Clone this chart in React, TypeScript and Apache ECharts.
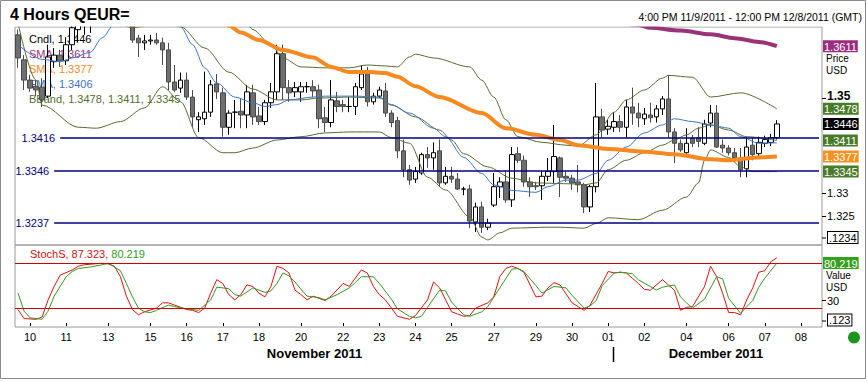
import React, { useEffect, useRef } from "react";
import * as echarts from "echarts";

const FONT = '"Liberation Sans", Arial, Helvetica, sans-serif';

// trading sessions of the 4-hour feed: [month, day, bars]
const sessionDays: [string, string, number][] = [
  ["Nov", "09", 2], ["Nov", "10", 6], ["Nov", "11", 6], ["Nov", "12", 1], ["Nov", "13", 1],
  ["Nov", "14", 6], ["Nov", "15", 6], ["Nov", "16", 6], ["Nov", "17", 6], ["Nov", "18", 6],
  ["Nov", "19", 1], ["Nov", "20", 1], ["Nov", "21", 6], ["Nov", "22", 6], ["Nov", "23", 6],
  ["Nov", "24", 6], ["Nov", "25", 6], ["Nov", "26", 1], ["Nov", "27", 1], ["Nov", "28", 6],
  ["Nov", "29", 6], ["Nov", "30", 6], ["Dec", "01", 6], ["Dec", "02", 6], ["Dec", "03", 1],
  ["Dec", "04", 1], ["Dec", "05", 6], ["Dec", "06", 6], ["Dec", "07", 6], ["Dec", "08", 4],
];
const labeledDays = [
  "Nov 10", "Nov 11", "Nov 13", "Nov 15", "Nov 16", "Nov 17", "Nov 18", "Nov 20", "Nov 22",
  "Nov 23", "Nov 24", "Nov 25", "Nov 27", "Nov 29", "Nov 30", "Dec 01", "Dec 02", "Dec 04",
  "Dec 06", "Dec 07", "Dec 08",
];
const monthLabels = ["November 2011", "December 2011"];

// [open, close, low, high]
const candles: number[][] = [
  [1.3635, 1.3586, 1.3565, 1.3646], [1.3582, 1.3539, 1.3518, 1.3592], [1.3539, 1.3522, 1.3514, 1.3550],
  [1.3526, 1.3518, 1.3505, 1.3539], [1.3524, 1.3497, 1.3482, 1.3543], [1.3505, 1.3588, 1.3501, 1.3614],
  [1.3578, 1.3592, 1.3565, 1.3607], [1.3592, 1.3580, 1.3567, 1.3603], [1.3580, 1.3614, 1.3571, 1.3630],
  [1.3614, 1.3650, 1.3603, 1.3662], [1.3646, 1.3671, 1.3620, 1.3688], [1.3666, 1.3699, 1.3635, 1.3709],
  [1.3699, 1.3756, 1.3639, 1.3773], [1.3756, 1.3765, 1.3743, 1.3778], [1.3765, 1.3761, 1.3753, 1.3771],
  [1.3784, 1.3799, 1.3774, 1.3815], [1.3799, 1.3774, 1.3759, 1.3809], [1.3774, 1.3733, 1.3718, 1.3784],
  [1.3733, 1.3702, 1.3687, 1.3748], [1.3702, 1.3624, 1.3618, 1.3712], [1.3628, 1.3618, 1.3588, 1.3635],
  [1.3618, 1.3622, 1.3603, 1.3635], [1.3622, 1.3624, 1.3614, 1.3635], [1.3624, 1.3618, 1.3614, 1.3639],
  [1.3618, 1.3603, 1.3571, 1.3629], [1.3603, 1.3535, 1.3518, 1.3618], [1.3535, 1.3518, 1.3514, 1.3571],
  [1.3522, 1.3539, 1.3512, 1.3555], [1.3539, 1.3503, 1.3497, 1.3555], [1.3503, 1.3461, 1.3439, 1.3518],
  [1.3455, 1.3461, 1.3429, 1.3471], [1.3457, 1.3471, 1.3444, 1.3557], [1.3471, 1.3529, 1.3461, 1.3539],
  [1.3531, 1.3514, 1.3499, 1.3552], [1.3512, 1.3439, 1.3419, 1.3523], [1.3439, 1.3469, 1.3423, 1.3475],
  [1.3471, 1.3471, 1.3437, 1.3497], [1.3473, 1.3465, 1.3437, 1.3501], [1.3465, 1.3514, 1.3437, 1.3529],
  [1.3512, 1.3461, 1.3444, 1.3529], [1.3463, 1.3451, 1.3444, 1.3482], [1.3451, 1.3491, 1.3444, 1.3497],
  [1.3491, 1.3514, 1.3480, 1.3533], [1.3514, 1.3595, 1.3497, 1.3614], [1.3595, 1.3523, 1.3497, 1.3614],
  [1.3523, 1.3512, 1.3493, 1.3539], [1.3514, 1.3523, 1.3503, 1.3535], [1.3514, 1.3525, 1.3493, 1.3535],
  [1.3525, 1.3525, 1.3512, 1.3535], [1.3525, 1.3516, 1.3503, 1.3539], [1.3518, 1.3457, 1.3437, 1.3529],
  [1.3459, 1.3449, 1.3429, 1.3482], [1.3449, 1.3497, 1.3439, 1.3539], [1.3495, 1.3483, 1.3471, 1.3514],
  [1.3487, 1.3483, 1.3471, 1.3497], [1.3483, 1.3483, 1.3471, 1.3503], [1.3483, 1.3525, 1.3465, 1.3533],
  [1.3523, 1.3552, 1.3518, 1.3571], [1.3552, 1.3493, 1.3483, 1.3567], [1.3493, 1.3505, 1.3487, 1.3512],
  [1.3505, 1.3518, 1.3501, 1.3525], [1.3516, 1.3469, 1.3461, 1.3533], [1.3469, 1.3449, 1.3439, 1.3475],
  [1.3453, 1.3389, 1.3374, 1.3461], [1.3389, 1.3349, 1.3333, 1.3413], [1.3349, 1.3327, 1.3317, 1.3359],
  [1.3329, 1.3345, 1.3321, 1.3355], [1.3342, 1.3381, 1.3338, 1.3385], [1.3381, 1.3374, 1.3353, 1.3397],
  [1.3374, 1.3385, 1.3349, 1.3407], [1.3389, 1.3321, 1.3313, 1.3413], [1.3321, 1.3335, 1.3317, 1.3355],
  [1.3335, 1.3329, 1.3321, 1.3355], [1.3329, 1.3308, 1.3306, 1.3342], [1.3308, 1.3308, 1.3295, 1.3313],
  [1.3308, 1.3240, 1.3225, 1.3317], [1.3238, 1.3270, 1.3217, 1.3279], [1.3270, 1.3227, 1.3215, 1.3281],
  [1.3227, 1.3236, 1.3221, 1.3245], [1.3274, 1.3313, 1.3270, 1.3342], [1.3313, 1.3323, 1.3289, 1.3333],
  [1.3323, 1.3285, 1.3279, 1.3345], [1.3285, 1.3381, 1.3270, 1.3397], [1.3383, 1.3369, 1.3363, 1.3397],
  [1.3369, 1.3323, 1.3313, 1.3379], [1.3323, 1.3313, 1.3291, 1.3333], [1.3315, 1.3313, 1.3306, 1.3323],
  [1.3315, 1.3335, 1.3285, 1.3345], [1.3335, 1.3345, 1.3325, 1.3374], [1.3345, 1.3377, 1.3321, 1.3444],
  [1.3374, 1.3333, 1.3291, 1.3377], [1.3335, 1.3331, 1.3323, 1.3345], [1.3331, 1.3321, 1.3306, 1.3338],
  [1.3323, 1.3317, 1.3301, 1.3359], [1.3317, 1.3270, 1.3257, 1.3321], [1.3270, 1.3313, 1.3259, 1.3317],
  [1.3313, 1.3461, 1.3301, 1.3533], [1.3461, 1.3433, 1.3417, 1.3478], [1.3435, 1.3441, 1.3423, 1.3455],
  [1.3439, 1.3451, 1.3429, 1.3469], [1.3451, 1.3439, 1.3429, 1.3465], [1.3439, 1.3482, 1.3417, 1.3497],
  [1.3482, 1.3469, 1.3444, 1.3523], [1.3469, 1.3459, 1.3439, 1.3491], [1.3457, 1.3467, 1.3444, 1.3480],
  [1.3465, 1.3459, 1.3449, 1.3491], [1.3461, 1.3478, 1.3449, 1.3486], [1.3478, 1.3499, 1.3465, 1.3505],
  [1.3499, 1.3429, 1.3417, 1.3550], [1.3429, 1.3405, 1.3363, 1.3437], [1.3405, 1.3391, 1.3387, 1.3413],
  [1.3385, 1.3405, 1.3383, 1.3437], [1.3415, 1.3405, 1.3397, 1.3423], [1.3417, 1.3409, 1.3397, 1.3439],
  [1.3405, 1.3446, 1.3401, 1.3455], [1.3448, 1.3469, 1.3439, 1.3486], [1.3469, 1.3397, 1.3395, 1.3486],
  [1.3401, 1.3395, 1.3385, 1.3413], [1.3395, 1.3385, 1.3379, 1.3401], [1.3385, 1.3374, 1.3365, 1.3395],
  [1.3374, 1.3349, 1.3333, 1.3395], [1.3351, 1.3397, 1.3333, 1.3417], [1.3401, 1.3381, 1.3369, 1.3417],
  [1.3383, 1.3407, 1.3377, 1.3419], [1.3405, 1.3413, 1.3397, 1.3421], [1.3407, 1.3417, 1.3399, 1.3425],
  [1.3417, 1.3446, 1.3413, 1.3454],
];

// indicator readings: [bar index, value]
const smaLong: number[][] = [
  [0, 1.38], [60, 1.373], [95, 1.3672], [103, 1.3656], [105, 1.365], [110, 1.3644], [115, 1.3636],
  [119, 1.3628], [123, 1.362], [126, 1.3611],
];
const smaShort: number[][] = [
  [0, 1.3745], [20, 1.37], [33, 1.3668], [35, 1.3655], [37, 1.364], [40, 1.3624], [44, 1.3603],
  [49, 1.3587], [52, 1.3567], [55, 1.3556], [58, 1.3556], [61, 1.3554], [63, 1.3546], [66, 1.3526],
  [70, 1.3503], [77, 1.3469], [81, 1.3437], [86, 1.3423], [90, 1.3412], [93, 1.3401], [98, 1.3393],
  [104, 1.3387], [109, 1.3382], [115, 1.3371], [118, 1.3369], [123, 1.3375], [126, 1.3377],
];
const ema: number[][] = [
  [0, 1.3614], [4, 1.3583], [7, 1.3578], [9, 1.3586], [12, 1.3598], [14, 1.3629], [16, 1.3658],
  [20, 1.3679], [23, 1.3672], [27, 1.3652], [29, 1.3614], [31, 1.3565], [33, 1.3533], [36, 1.3503],
  [39, 1.3491], [41, 1.3483], [43, 1.3487], [45, 1.3497], [49, 1.3503], [51, 1.3505], [56, 1.3505],
  [60, 1.3503], [62, 1.3487], [65, 1.3469], [69, 1.3437], [71, 1.3419], [74, 1.3375], [77, 1.3341],
  [79, 1.3317], [82, 1.3305], [86, 1.3301], [88, 1.3313], [91, 1.3327], [93, 1.3327], [96, 1.3341],
  [98, 1.3369], [101, 1.3397], [104, 1.3427], [107, 1.3444], [109, 1.3457], [112, 1.3451],
  [115, 1.3444], [118, 1.3437], [120, 1.3419], [123, 1.3405], [126, 1.3406],
];
const bbUpper: number[][] = [
  [0, 1.3815], [20, 1.3875], [30, 1.3815], [36, 1.3712], [38, 1.3658], [39, 1.3646], [42, 1.3614],
  [44, 1.3586], [47, 1.3567], [51, 1.3565], [55, 1.3565], [58, 1.3571], [61, 1.3569], [63, 1.3567],
  [65, 1.3588], [66, 1.3594], [69, 1.3586], [75, 1.3567], [77, 1.3539], [79, 1.3503], [81, 1.3455],
  [83, 1.3419], [87, 1.3407], [91, 1.3401], [93, 1.3399], [96, 1.3423], [99, 1.3471], [101, 1.3497],
  [104, 1.3518], [107, 1.3543], [108, 1.3549], [112, 1.3545], [115, 1.3503], [120, 1.3512],
  [126, 1.3478],
];
const bbMiddle: number[][] = [
  [0, 1.3732], [10, 1.3672], [17, 1.3656], [19, 1.365], [22, 1.3656], [25, 1.366], [27, 1.3652],
  [31, 1.3607], [35, 1.3556], [39, 1.352], [43, 1.3497], [47, 1.3497], [50, 1.3501], [55, 1.3503],
  [60, 1.3501], [62, 1.3486], [66, 1.3461], [70, 1.3433], [72, 1.3412], [74, 1.3383], [78, 1.3355],
  [82, 1.3331], [86, 1.3321], [92, 1.3319], [94, 1.3317], [96, 1.3321], [98, 1.3349], [101, 1.3369],
  [104, 1.3385], [107, 1.3401], [109, 1.3412], [111, 1.3423], [113, 1.3437], [115, 1.3444],
  [118, 1.3433], [121, 1.3419], [126, 1.3411],
];
const bbLower: number[][] = [
  [0, 1.366], [3, 1.3539], [4, 1.3486], [10, 1.3439], [13, 1.3437], [17, 1.3451], [21, 1.348],
  [24, 1.3525], [27, 1.3493], [30, 1.3417], [34, 1.3385], [36, 1.3385], [39, 1.3395], [43, 1.3412],
  [47, 1.3419], [51, 1.3427], [55, 1.3429], [60, 1.3429], [62, 1.3417], [65, 1.3405], [68, 1.3333],
  [71, 1.3306], [75, 1.3249], [77, 1.3206], [78, 1.32], [80, 1.3215], [82, 1.3225], [88, 1.3227],
  [90, 1.3227], [94, 1.3225], [96, 1.3235], [98, 1.3247], [103, 1.3243], [107, 1.3263], [111, 1.3291],
  [113, 1.3321], [114, 1.3369], [115, 1.3391], [118, 1.3375], [120, 1.3355], [122, 1.3345],
  [125, 1.3345], [126, 1.3345],
];
const levels = [1.3416, 1.3346, 1.3237];
const levelStart = [7, 6, 6];

const stochK: number[][] = [
  [0, 18], [1, 6], [3, 5], [4, 8], [5, 31], [6, 49], [7, 64], [9, 71], [10, 76], [11, 78], [14, 80],
  [15, 79], [16, 76], [17, 62], [18, 36], [19, 18], [20, 11], [21, 15], [23, 20], [24, 27], [25, 27],
  [26, 24], [28, 18], [29, 17], [30, 14], [31, 20], [32, 40], [33, 58], [34, 53], [35, 38], [36, 31],
  [37, 38], [38, 51], [39, 49], [40, 40], [41, 35], [42, 49], [43, 76], [44, 73], [45, 67], [46, 44],
  [47, 38], [48, 31], [49, 36], [50, 33], [51, 30], [52, 36], [54, 53], [55, 49], [57, 71], [58, 67],
  [59, 49], [60, 38], [61, 31], [62, 20], [63, 9], [65, 5], [66, 10], [68, 31], [69, 55], [70, 47],
  [72, 15], [73, 12], [74, 9], [75, 10], [76, 20], [78, 27], [79, 35], [80, 62], [81, 73], [82, 76],
  [83, 73], [84, 68], [86, 35], [87, 36], [88, 47], [89, 54], [90, 51], [92, 27], [93, 22], [94, 17],
  [95, 24], [97, 53], [98, 69], [99, 67], [100, 68], [101, 67], [102, 60], [103, 53], [104, 45],
  [105, 44], [107, 58], [108, 51], [109, 44], [110, 17], [111, 21], [112, 22], [114, 49], [115, 76],
  [116, 62], [117, 40], [118, 14], [119, 14], [120, 11], [121, 31], [122, 47], [123, 68], [124, 70],
  [125, 82], [126, 87.323],
];
const stochD: number[][] = [
  [0, 40], [1, 16], [2, 7], [4, 5], [5, 16], [6, 36], [8, 62], [9, 69], [10, 73], [12, 75], [14, 78],
  [15, 80], [17, 70], [18, 53], [19, 35], [20, 20], [21, 15], [22, 14], [23, 17], [25, 24], [26, 22],
  [28, 19], [30, 17], [32, 31], [33, 48], [35, 46], [36, 38], [37, 36], [39, 47], [41, 41], [42, 43],
  [43, 53], [44, 67], [45, 63], [46, 55], [47, 45], [48, 36], [50, 34], [51, 31], [53, 38], [55, 47],
  [56, 54], [57, 62], [59, 62], [60, 53], [62, 32], [63, 19], [65, 9], [66, 7], [67, 9], [68, 21],
  [70, 44], [71, 43], [72, 28], [74, 11], [75, 9], [77, 15], [78, 22], [80, 47], [82, 72], [83, 73],
  [84, 69], [86, 50], [87, 40], [89, 49], [91, 47], [92, 37], [94, 20], [95, 23], [96, 30], [97, 50],
  [99, 67], [100, 68], [102, 66], [103, 58], [106, 44], [107, 48], [109, 51], [110, 35], [111, 27],
  [112, 20], [114, 32], [116, 62], [117, 59], [118, 33], [120, 13], [121, 22], [122, 30], [123, 48],
  [124, 60], [126, 80.219],
];
const stochBands = [80, 20];
const priceTicks = [1.325, 1.33, 1.35];
const stochTicks = [30];

const PURPLE = "#993377";
const ORANGE = "#f6891f";
const BLUE = "#3f72c8";
const OLIVE = "#566b30";
const NAVY = "#000080";
const RED = "#dd1111";
const GREEN = "#339922";

const last = (a: number[][]) => a[a.length - 1];

function buildOption() {
  const categories: string[] = [];
  const labelIdx = new Set<number>();
  sessionDays.forEach(([m, d, n]) => {
    for (let k = 0; k < n; k++) {
      if (k === 0 && labeledDays.includes(`${m} ${d}`)) labelIdx.add(categories.length);
      categories.push(`${m} ${d} ${k}`);
    }
  });
  const lastIdx = categories.length - 1;
  const close = last(candles)[1];

  const tagRich = (bg: string) => ({
    backgroundColor: bg, color: "#fff", fontSize: 11, fontFamily: FONT,
    padding: [1, 1, 0, 1], lineHeight: 11,
  });
  const mainTags = [
    { v: last(smaLong)[1], s: "pu" },
    { v: last(bbUpper)[1], s: "gr" },
    { v: close, s: "bk" },
    { v: last(bbMiddle)[1], s: "gr" },
    { v: last(smaShort)[1], s: "or" },
    { v: last(bbLower)[1], s: "gr" },
  ];
  const stochTags = [
    { v: last(stochK)[1], s: "rd" },
    { v: last(stochD)[1], s: "gn" },
  ];

  const legendRows = [
    { t: `Cndl, ${close.toFixed(4)}`, c: "#000" },
    { t: `SMA, ${last(smaLong)[1].toFixed(4)}`, c: PURPLE },
    { t: `SMA, ${last(smaShort)[1].toFixed(4)}`, c: ORANGE },
    { t: `EMA, ${last(ema)[1].toFixed(4)}`, c: BLUE },
    {
      t: `BBand, ${last(bbUpper)[1].toFixed(4)}, ${last(bbMiddle)[1].toFixed(4)}, ${last(bbLower)[1].toFixed(4)}`,
      c: OLIVE,
    },
  ];

  const txt = (x: number, y: number, text: string, extra: any = {}, z = 0) => ({
    type: "text", x, y, z, silent: true,
    style: { text, fontSize: 11, fontFamily: FONT, fill: "#000", verticalAlign: "middle", ...extra },
  });

  const lineSeries = (name: string, data: number[][], color: string, width: number, extra: any = {}) => ({
    name, type: "line", xAxisIndex: 0, yAxisIndex: 0, data, symbol: "none", showSymbol: false,
    smooth: 0.3, smoothMonotone: "x", clip: true, silent: true,
    lineStyle: { color, width }, ...extra,
  });

  return {
    animation: false,
    backgroundColor: "#fff",
    grid: [
      { left: 15, top: 27, width: 807, height: 218, show: true, borderColor: "#9a9a9a", borderWidth: 1 },
      { left: 15, top: 245, width: 807, height: 82, show: true, borderColor: "#9a9a9a", borderWidth: 1 },
    ],
    xAxis: [
      {
        type: "category", gridIndex: 0, data: categories, boundaryGap: true,
        axisLine: { show: false }, axisTick: { show: false }, axisLabel: { show: false }, splitLine: { show: false },
      },
      {
        type: "category", gridIndex: 1, data: categories, boundaryGap: true,
        axisLine: { show: false }, splitLine: { show: false },
        axisTick: { show: true, alignWithLabel: true, length: 3, interval: (i: number) => labelIdx.has(i), lineStyle: { color: "#000" } },
        axisLabel: {
          interval: (i: number) => labelIdx.has(i),
          formatter: (v: string) => v.split(" ")[1],
          fontSize: 11, fontFamily: FONT, color: "#000", margin: 4,
        },
      },
    ],
    yAxis: [
      {
        type: "value", gridIndex: 0, position: "right", min: 1.31893, max: 1.36516,
        axisLine: { show: false }, splitLine: { show: false },
        axisTick: { show: true, length: 4, customValues: priceTicks, lineStyle: { color: "#000" } },
        axisLabel: {
          customValues: priceTicks, margin: 5, fontSize: 11, fontFamily: FONT, color: "#000",
          formatter: (v: number) => (Math.abs(v - 1.35) < 1e-9 ? `{b|${v}}` : `${v}`),
          rich: { b: { fontWeight: "bold", fontSize: 12, fontFamily: FONT, color: "#000", padding: [0, 0, 4, 0] } },
        },
      },
      {
        type: "value", gridIndex: 0, position: "right", min: 1.31893, max: 1.36516, z: 10,
        axisLine: { show: false }, splitLine: { show: false }, axisTick: { show: false },
        axisLabel: {
          customValues: mainTags.map((t) => t.v), margin: 1,
          formatter: (v: number) => {
            const t = mainTags.find((m) => Math.abs(m.v - v) < 1e-6);
            return t ? `{${t.s}|${v.toFixed(4)}}` : "";
          },
          rich: { pu: tagRich("#9b2d7f"), gr: tagRich("#4a7b29"), bk: tagRich("#000"), or: tagRich("#f7901e") },
        },
      },
      {
        type: "value", gridIndex: 1, position: "right", min: -5.3, max: 104.4,
        axisLine: { show: false }, splitLine: { show: false },
        axisTick: { show: true, length: 4, customValues: stochTicks, lineStyle: { color: "#000" } },
        axisLabel: { customValues: stochTicks, margin: 5, fontSize: 11, fontFamily: FONT, color: "#000" },
      },
      {
        type: "value", gridIndex: 1, position: "right", min: -5.3, max: 104.4, z: 10,
        axisLine: { show: false }, splitLine: { show: false }, axisTick: { show: false },
        axisLabel: {
          customValues: stochTags.map((t) => t.v), margin: 1,
          formatter: (v: number) => {
            const t = stochTags.find((m) => Math.abs(m.v - v) < 1e-6);
            return t ? `{${t.s}|${v.toFixed(3)}}` : "";
          },
          rich: { rd: tagRich("#ff0000"), gn: tagRich("#33a11c") },
        },
      },
    ],
    series: [
      {
        name: "Cndl", type: "candlestick", xAxisIndex: 0, yAxisIndex: 0, data: candles, barWidth: 5,
        clip: true, silent: true,
        itemStyle: { color: "#ffffff", color0: "#6f6f6f", borderColor: "#000", borderColor0: "#4a4a4a", borderWidth: 1 },
      },
      lineSeries("BB upper", bbUpper, OLIVE, 1),
      lineSeries("BB middle", bbMiddle, OLIVE, 1),
      lineSeries("BB lower", bbLower, OLIVE, 1),
      lineSeries("EMA", ema, BLUE, 1),
      lineSeries("SMA long", smaLong, PURPLE, 4),
      lineSeries("SMA short", smaShort, ORANGE, 4, {
        markLine: {
          silent: true, symbol: ["none", "none"], animation: false,
          lineStyle: { color: NAVY, width: 1.5, type: "solid" },
          label: { show: true, position: "start", distance: 5, color: NAVY, fontSize: 11, fontFamily: FONT, formatter: (p: any) => p.name },
          emphasis: { disabled: true },
          data: levels.map((v, i) => [
            { name: v.toFixed(4), coord: [levelStart[i], v] },
            { coord: [lastIdx, v] },
          ]),
        },
      }),
      {
        name: "StochK", type: "line", xAxisIndex: 1, yAxisIndex: 2, data: stochK, symbol: "none",
        showSymbol: false, silent: true, lineStyle: { color: RED, width: 1 },
        markLine: {
          silent: true, symbol: ["none", "none"], animation: false, label: { show: false },
          lineStyle: { color: "#cc0000", width: 1, type: "solid" }, emphasis: { disabled: true },
          data: stochBands.map((v) => ({ yAxis: v })),
        },
      },
      {
        name: "StochD", type: "line", xAxisIndex: 1, yAxisIndex: 2, data: stochD, symbol: "none",
        showSymbol: false, silent: true, lineStyle: { color: GREEN, width: 1 },
      },
    ],
    graphic: [
      // mask: candle bodies that run above the price pane are cut at its top edge
      { type: "rect", silent: true, z: 50, shape: { x: 2, y: 1, width: 862, height: 25.6 }, style: { fill: "#fff" } },
      { type: "rect", silent: true, z: 60, shape: { x: 0.5, y: 0.5, width: 865, height: 378 }, style: { fill: "none", stroke: "#8a8a8a", lineWidth: 1 } },
      txt(10, 14.5, "4 Hours QEUR=", { fontSize: 16, fontWeight: "bold" }, 60),
      txt(862, 16.5, "4:00 PM 11/9/2011 - 12:00 PM 12/8/2011 (GMT)", { fontSize: 10.5, align: "right" }, 60),
      ...legendRows.map((r, i) => txt(29, 39 + i * 15, r.t, { fill: r.c })),
      {
        type: "text", x: 30, y: 253.5, z: 0, silent: true,
        style: {
          text: `{r|StochS, ${last(stochK)[1].toFixed(3)},} {g|${last(stochD)[1].toFixed(3)}}`,
          verticalAlign: "middle", fontSize: 11, fontFamily: FONT,
          rich: { r: { fill: "#cc1111", fontSize: 11, fontFamily: FONT }, g: { fill: GREEN, fontSize: 11, fontFamily: FONT } },
        },
      },
      txt(826, 58, "Price", { fontSize: 10 }),
      txt(826, 70, "USD", { fontSize: 10 }),
      txt(826, 275.5, "Value", { fontSize: 10 }),
      txt(826, 287, "USD", { fontSize: 10 }),
      { type: "line", silent: true, shape: { x1: 822, y1: 238, x2: 826, y2: 238 }, style: { stroke: "#000", lineWidth: 1 } },
      txt(828, 237.5, ".1234", { backgroundColor: "#fff", borderColor: "#000", borderWidth: 1, padding: [0, 1, 0, 1] }, 5),
      { type: "line", silent: true, shape: { x1: 822, y1: 321, x2: 826, y2: 321 }, style: { stroke: "#000", lineWidth: 1 } },
      txt(828, 320, ".123", { backgroundColor: "#fff", borderColor: "#000", borderWidth: 1, padding: [0, 1, 0, 1] }, 5),
      txt(314.5, 353, monthLabels[0], { fontSize: 13, fontWeight: "bold", align: "center" }),
      txt(716, 353, monthLabels[1], { fontSize: 13, fontWeight: "bold", align: "center" }),
      { type: "line", silent: true, shape: { x1: 613.5, y1: 347, x2: 613.5, y2: 362 }, style: { stroke: "#000", lineWidth: 1.5 } },
      { type: "circle", silent: true, shape: { cx: 854, cy: 337.5, r: 6 }, style: { fill: "#1b951b" } },
    ],
  };
}

export default function App() {
  const ref = useRef<HTMLDivElement | null>(null);
  useEffect(() => {
    if (!ref.current) return;
    const chart = echarts.init(ref.current, null, { renderer: "svg" });
    chart.setOption(buildOption() as any);
    return () => chart.dispose();
  }, []);
  return (
    <div
      ref={ref}
      style={{ position: "absolute", left: 0, top: 0, width: 867, height: 382, background: "#fff" }}
    />
  );
}
